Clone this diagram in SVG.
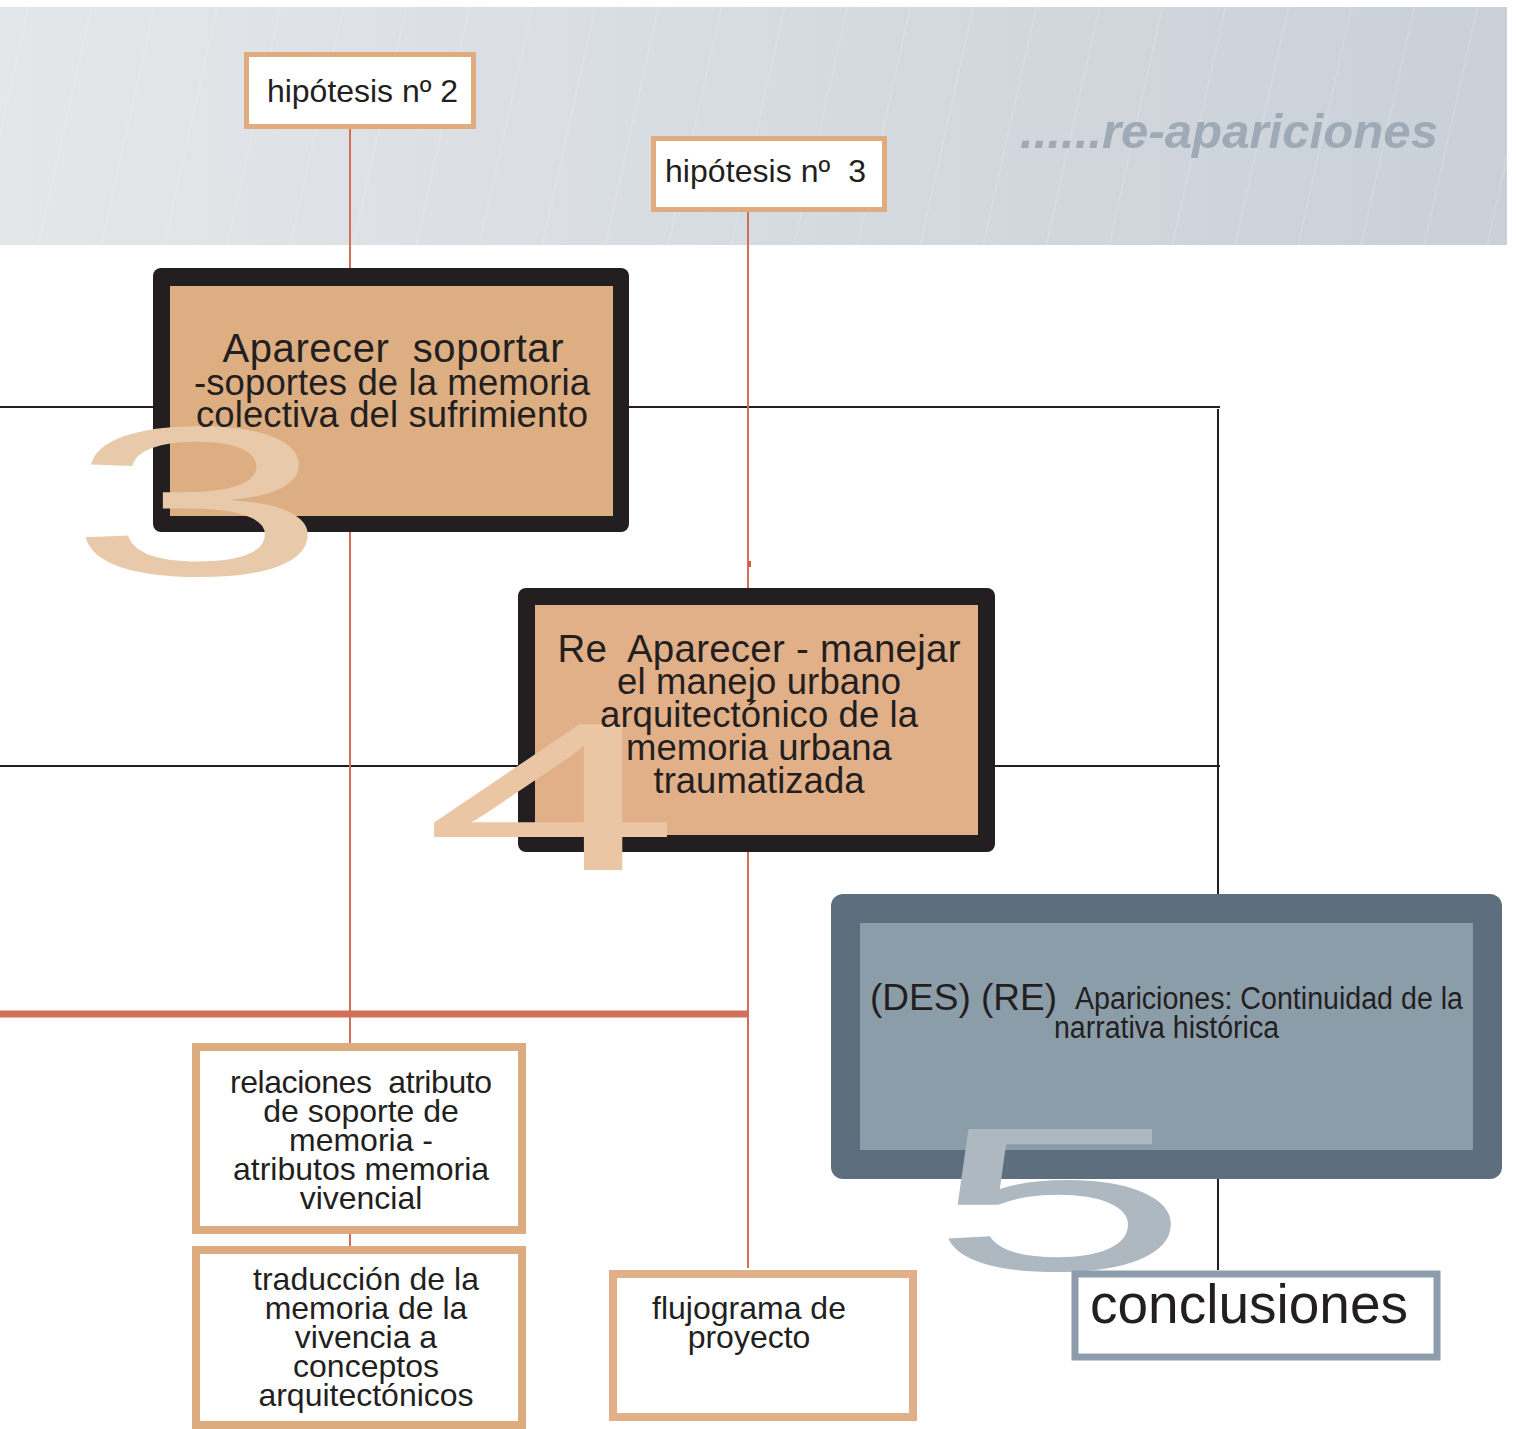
<svg xmlns="http://www.w3.org/2000/svg" width="1516" height="1429" viewBox="0 0 1516 1429">
  <defs>
    <linearGradient id="bannerGrad" x1="0" y1="0" x2="1" y2="0">
      <stop offset="0" stop-color="#e4e7ea"/>
      <stop offset="1" stop-color="#c9d0d7"/>
    </linearGradient>
    <pattern id="streaks" width="63" height="240" patternUnits="userSpaceOnUse" patternTransform="skewX(-12.6)">
      <line x1="30" y1="0" x2="30" y2="240" stroke="#ffffff" stroke-opacity="0.3" stroke-width="0.8"/>
    </pattern>
    <style>
      .txt { font-family: "Liberation Sans", Arial, sans-serif; fill: #231f20; white-space: pre; }
      .hyp { fill: #ffffff; stroke: #dfab7f; stroke-width: 5; }
      .obox { fill: #ffffff; stroke: #dcab7e; stroke-width: 8; }
      .blk { stroke: #231f20; stroke-width: 2; fill: none; }
      .red { stroke: #d07058; stroke-width: 2; fill: none; }
      .num { font-family: "Liberation Sans", Arial, sans-serif; text-anchor: middle; }
    </style>
  </defs>

  <rect width="1516" height="1429" fill="#ffffff"/>

  <g id="banner">
    <rect x="0" y="7" width="1507" height="238" fill="url(#bannerGrad)"/>
    <rect x="0" y="7" width="1507" height="238" fill="url(#streaks)"/>
    <text x="1020" y="148" font-family="Liberation Sans, Arial, sans-serif" font-size="48" font-weight="bold" font-style="italic" fill="#9eaab5" textLength="418" lengthAdjust="spacingAndGlyphs">......re-apariciones</text>
  </g>

  <g id="connectors">
    <line class="blk" x1="0" y1="407" x2="1220" y2="407"/>
    <line class="blk" x1="0" y1="766" x2="1220" y2="766"/>
    <line class="blk" x1="1218" y1="409" x2="1218" y2="1270"/>
    <line class="red" x1="350" y1="128" x2="350" y2="1043"/>
    <line class="red" x1="350" y1="1234" x2="350" y2="1246"/>
    <line class="red" x1="748" y1="211" x2="748" y2="1268"/>
    <rect x="748" y="561" width="3" height="6" fill="#e0553a"/>
    <line x1="0" y1="1014" x2="748" y2="1014" stroke="#d07058" stroke-width="7"/>
  </g>

  <g id="hipotesis2">
    <rect class="hyp" x="246.5" y="54.5" width="227" height="72"/>
    <text class="txt" x="267" y="102" font-size="32" textLength="191" xml:space="preserve">hipótesis nº 2</text>
  </g>

  <g id="hipotesis3">
    <rect class="hyp" x="653.5" y="138.5" width="231" height="71"/>
    <text class="txt" x="665" y="182" font-size="32" textLength="201" xml:space="preserve">hipótesis nº  3</text>
  </g>

  <g id="box3">
    <rect x="153" y="268" width="476" height="264" rx="8" fill="#231f20"/>
    <rect x="170" y="286" width="443" height="230" fill="#dcae82"/>
    <text class="num" transform="translate(198,575) scale(2.2,1)" font-size="213" fill="#e8caab">3</text>
    <text class="txt" x="393" y="362" font-size="40" text-anchor="middle" textLength="341" xml:space="preserve">Aparecer  soportar</text>
    <text class="txt" x="392" y="395" font-size="36.5" text-anchor="middle" textLength="396">-soportes de la memoria</text>
    <text class="txt" x="392" y="427" font-size="36.5" text-anchor="middle" textLength="392">colectiva del sufrimiento</text>
  </g>

  <g id="box4">
    <rect x="518" y="588" width="477" height="264" rx="8" fill="#231f20"/>
    <rect x="535" y="605" width="443" height="230" fill="#e2b088"/>
    <text class="num" transform="translate(552,870) scale(2.18,1)" font-size="212" fill="#ebc6a4">4</text>
    <text class="txt" x="759" y="662" font-size="38.5" text-anchor="middle" textLength="403" xml:space="preserve">Re  Aparecer - manejar</text>
    <text class="txt" x="759" y="694" font-size="36.5" text-anchor="middle" textLength="284">el manejo urbano</text>
    <text class="txt" x="759" y="727" font-size="36.5" text-anchor="middle" textLength="318">arquitectónico de la</text>
    <text class="txt" x="759" y="760" font-size="36.5" text-anchor="middle">memoria urbana</text>
    <text class="txt" x="759" y="793" font-size="36.5" text-anchor="middle">traumatizada</text>
  </g>

  <g id="box5">
    <rect x="831" y="894" width="671" height="285" rx="12" fill="#5d6f7f"/>
    <rect x="860" y="923" width="613" height="227" fill="#8c9daa"/>
    <text class="num" transform="translate(1060,1270) scale(2.29,1)" font-size="205" fill="#adb8c1">5</text>
    <text class="txt" x="870" y="1010" font-size="37" textLength="187" lengthAdjust="spacingAndGlyphs">(DES) (RE)</text>
    <text class="txt" x="1075" y="1009" font-size="31" textLength="388" lengthAdjust="spacingAndGlyphs">Apariciones: Continuidad de la</text>
    <text class="txt" x="1054" y="1038" font-size="31" textLength="225" lengthAdjust="spacingAndGlyphs">narrativa histórica</text>
  </g>

  <g id="relaciones">
    <rect class="obox" x="196" y="1047" width="326" height="183"/>
    <text class="txt" x="361" y="1093" font-size="32" text-anchor="middle" textLength="262" xml:space="preserve">relaciones  atributo</text>
    <text class="txt" x="361" y="1122" font-size="32" text-anchor="middle">de soporte de</text>
    <text class="txt" x="361" y="1151" font-size="32" text-anchor="middle">memoria -</text>
    <text class="txt" x="361" y="1180" font-size="32" text-anchor="middle">atributos memoria</text>
    <text class="txt" x="361" y="1209" font-size="32" text-anchor="middle">vivencial</text>
  </g>

  <g id="traduccion">
    <rect class="obox" x="196" y="1250" width="326" height="175"/>
    <text class="txt" x="366" y="1290" font-size="32" text-anchor="middle">traducción de la</text>
    <text class="txt" x="366" y="1319" font-size="32" text-anchor="middle">memoria de la</text>
    <text class="txt" x="366" y="1348" font-size="32" text-anchor="middle">vivencia a</text>
    <text class="txt" x="366" y="1377" font-size="32" text-anchor="middle">conceptos</text>
    <text class="txt" x="366" y="1406" font-size="32" text-anchor="middle">arquitectónicos</text>
  </g>

  <g id="flujograma">
    <rect x="613" y="1274" width="300" height="143" fill="#ffffff" stroke="#e2b088" stroke-width="8"/>
    <text class="txt" x="749" y="1319" font-size="32" text-anchor="middle">flujograma de</text>
    <text class="txt" x="749" y="1348" font-size="32" text-anchor="middle">proyecto</text>
  </g>

  <g id="conclusiones">
    <rect x="1075" y="1274" width="362" height="83" fill="#ffffff" stroke="#8e9dab" stroke-width="7"/>
    <text class="txt" x="1090" y="1323" font-size="55" textLength="318" lengthAdjust="spacingAndGlyphs">conclusiones</text>
  </g>
</svg>
